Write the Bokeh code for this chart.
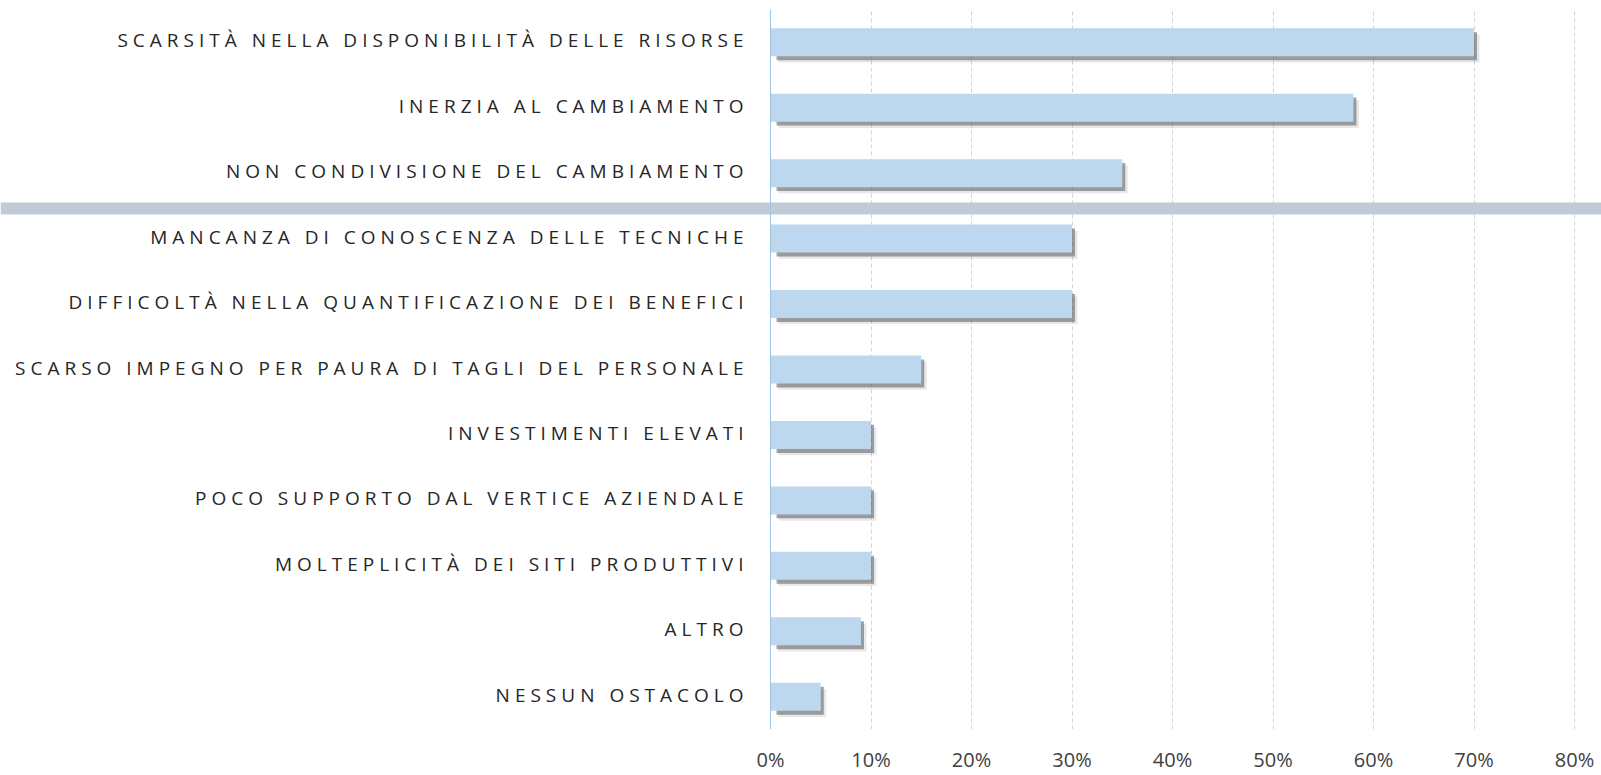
from bokeh.plotting import figure
from bokeh.layouts import column
from bokeh.models import (FactorRange, Range1d, FixedTicker, PrintfTickFormatter, Span,
                          ColumnDataSource, InlineStyleSheet, Grid)
from bokeh.core.properties import value
from bokeh.transform import dodge
from bokeh.embed import file_html
from bokeh.resources import INLINE

categories = [
    "SCARSITÀ NELLA DISPONIBILITÀ DELLE RISORSE",
    "INERZIA AL CAMBIAMENTO",
    "NON CONDIVISIONE DEL CAMBIAMENTO",
    "MANCANZA DI CONOSCENZA DELLE TECNICHE",
    "DIFFICOLTÀ NELLA QUANTIFICAZIONE DEI BENEFICI",
    "SCARSO IMPEGNO PER PAURA DI TAGLI DEL PERSONALE",
    "INVESTIMENTI ELEVATI",
    "POCO SUPPORTO DAL VERTICE AZIENDALE",
    "MOLTEPLICITÀ DEI SITI PRODUTTIVI",
    "ALTRO",
    "NESSUN OSTACOLO",
]
values = [70, 58, 35, 30, 30, 15, 10, 10, 10, 9, 5]
x_ticks = [0, 10, 20, 30, 40, 50, 60, 70, 80]

SPACING = 5          # css letter-spacing (px) of the category labels
LABEL_STANDOFF = 27  # px between label end and the 0 % axis
src = ColumnDataSource(data=dict(
    cat=categories, val=values,
    lab_off=[-(LABEL_STANDOFF + SPACING * (len(c) - 1)) for c in categories],
))
y_range = FactorRange(factors=categories[::-1])

BAND_COLOR = "#bfcbd7"
BAND_LOC = 7.96
W = 1601
TOP_H = 729
AXIS_PX = 770
PX_PER_PCT = 10.05
x0 = -AXIS_PX / PX_PER_PCT
x_range = Range1d(x0, x0 + W / PX_PER_PCT)

# ---------- main chart (labels, bars, grid, band) ----------
T = figure(
    width=W, height=TOP_H, output_backend="svg", toolbar_location=None,
    y_range=y_range, x_range=x_range,
    x_axis_location=None, y_axis_location=None,
    min_border_left=0, min_border_right=0, min_border_top=9, min_border_bottom=0,
)
T.outline_line_color = None
T.grid.visible = False
T.stylesheets = [InlineStyleSheet(css=":host { letter-spacing: 5px; }")]

T.add_layout(Grid(dimension=0, ticker=FixedTicker(ticks=x_ticks),
                  grid_line_color="#d4d4d4", grid_line_dash="4 3"))

# soft shadow layers
T.hbar(y=dodge("cat", -0.095, range=y_range), left=0.8, right=dodge("val", 0.55),
       height=0.428, source=src, fill_color="#7f7f7f", fill_alpha=0.18, line_color=None)
T.hbar(y=dodge("cat", -0.06, range=y_range), left=0.6, right=dodge("val", 0.3),
       height=0.428, source=src, fill_color="#595959", fill_alpha=0.55, line_color=None)
# bars
T.hbar(y="cat", left=0, right="val", height=0.428, source=src,
       fill_color="#bdd7ee", line_color=None)

# category labels
T.text(x=0, y="cat", text="cat", x_offset="lab_off", y_offset=-2, source=src,
       text_align="right", text_baseline="middle",
       text_font=value("Open Sans"), text_font_size="19px", text_color="#262626")

T.add_layout(Span(location=BAND_LOC, dimension="width", line_color=BAND_COLOR, line_width=12))
T.add_layout(Span(location=0, dimension="height", line_color="#9dc3e6", line_width=1))

# ---------- value axis (tick labels only) ----------
B = figure(
    width=W, height=775 - TOP_H, output_backend="svg", toolbar_location=None,
    x_range=x_range, y_range=Range1d(0, 1), y_axis_location=None,
    min_border_left=0, min_border_right=0, min_border_top=0, min_border_bottom=0,
)
B.outline_line_color = None
B.grid.visible = False
B.xaxis.ticker = FixedTicker(ticks=x_ticks)
B.xaxis.formatter = PrintfTickFormatter(format="%d%%")
B.xaxis.axis_line_color = None
B.xaxis.major_tick_line_color = None
B.xaxis.minor_tick_line_color = None
B.xaxis.major_label_text_font = "Open Sans"
B.xaxis.major_label_text_font_size = "20px"
B.xaxis.major_label_text_color = "#404040"
B.xaxis.major_label_standoff = 6

layout = column(T, B, spacing=0)
open("out.html", "w").write(file_html(layout, INLINE))
